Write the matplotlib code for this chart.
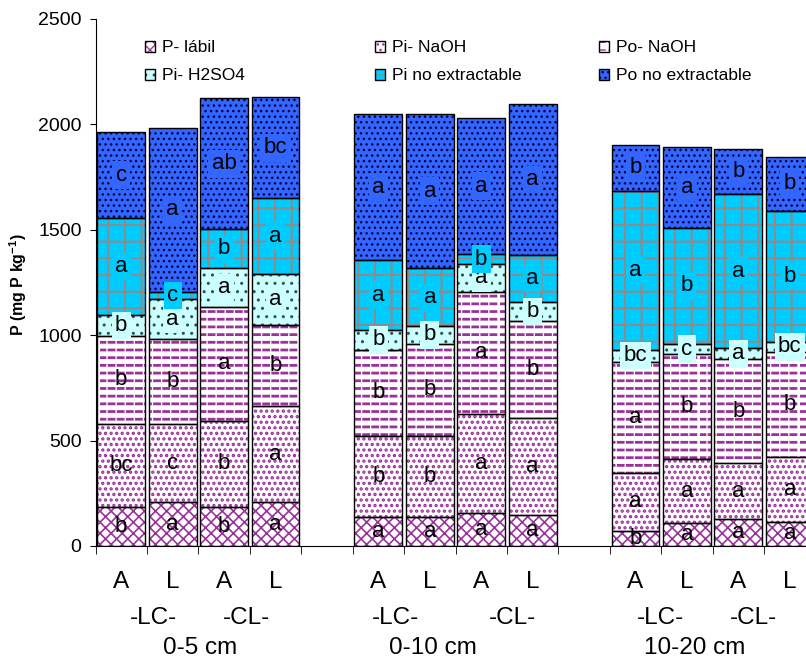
import warnings

import matplotlib
matplotlib.use('Agg')
import matplotlib.hatch as mhatch
import matplotlib.pyplot as plt
import numpy as np
from matplotlib.path import Path

# bars: 0-5 cm (A LC, L LC, A CL, L CL), 0-10 cm (...), 10-20 cm (...)
p_labil = [184, 207, 184, 207, 136, 136, 155, 147, 73, 108, 127, 115]
pi_naoh = [395, 370, 411, 456, 386, 387, 471, 459, 275, 303, 265, 309]
po_naoh = [417, 406, 537, 385, 408, 435, 581, 461, 526, 499, 494, 498]
pi_h2so4 = [100, 187, 185, 241, 95, 86, 131, 92, 58, 48, 52, 46]
pi_noext = [461, 37, 185, 360, 330, 273, 46, 221, 754, 552, 730, 623]
po_noext = [405, 774, 623, 481, 694, 732, 646, 717, 215, 381, 214, 256]

let_labil = ['b', 'a', 'b', 'a', 'a', 'a', 'a', 'a', 'b', 'a', 'a', 'a']
let_pinaoh = ['bc', 'c', 'b', 'a', 'b', 'b', 'a', 'a', 'a', 'a', 'a', 'a']
let_ponaoh = ['b', 'b', 'a', 'b', 'b', 'b', 'a', 'b', 'a', 'b', 'b', 'b']
let_pih2so4 = ['b', 'a', 'a', 'a', 'b', 'b', 'a', 'b', 'bc', 'c', 'a', 'bc']
let_pinoext = ['a', 'c', 'b', 'a', 'a', 'a', 'b', 'a', 'a', 'b', 'a', 'b']
let_ponoext = ['c', 'a', 'ab', 'bc', 'a', 'a', 'a', 'a', 'b', 'a', 'b', 'b']

tick_labels = ['A', 'L', 'A', 'L'] * 3
sub_labels = ['-LC-', '-CL-'] * 3
depth_labels = ['0-5 cm', '0-10 cm', '10-20 cm']


class DashHatch(mhatch.HatchPatternBase):
    # short horizontal dashes, used with the '_' hatch character
    def __init__(self, hatch, density):
        self.num_rows = 13 if '_' in hatch else 0
        self.num_cols = 11
        self.num_vertices = self.num_rows * self.num_cols * 2

    def set_vertices_and_codes(self, vertices, codes):
        k = 0
        for i in range(self.num_rows):
            y = (i + 0.5) / self.num_rows
            for j in range(self.num_cols):
                x0 = j / self.num_cols
                vertices[k] = (x0, y)
                vertices[k + 1] = (x0 + 0.55 / self.num_cols, y)
                codes[k] = Path.MOVETO
                codes[k + 1] = Path.LINETO
                k += 2


mhatch._hatch_types.append(DashHatch)
warnings.filterwarnings('ignore', message='hatch must consist')

plt.rcParams['font.family'] = ['Liberation Sans', 'DejaVu Sans']
plt.rcParams['mathtext.default'] = 'regular'

purple = '#993399'
fractions = [
    (p_labil, 'white', 'xxx', purple, 1.2, let_labil, None, 'P- lábil'),
    (pi_naoh, 'white', '...', purple, 1.6, let_pinaoh, None, 'Pi- NaOH'),
    (po_naoh, 'white', '_', purple, 2.0, let_ponaoh, None, 'Po- NaOH'),
    (pi_h2so4, '#CCFFFF', '..', '#2F4F4F', 1.0, let_pih2so4, '#CCFFFF', 'Pi- H2SO4'),
    (pi_noext, '#00CCFF', '+', '#8C8C8C', 1.5, let_pinoext, '#00CCFF', 'Pi no extractable'),
    (po_noext, '#3366FF', '...', '#000040', 1.0, let_ponoext, '#3366FF', 'Po no extractable'),
]

fig = plt.figure(figsize=(8.06, 6.59), dpi=100)
ax = fig.add_axes([0.1185, 0.1715, 0.8933, 0.7997])

x = np.array([0, 1, 2, 3, 5, 6, 7, 8, 10, 11, 12, 13])
bottom = np.zeros(len(x))
handles = []
labels = []
for values, face, hatch, hcolor, hlw, letters, box, name in fractions:
    values = np.array(values, dtype=float)
    plt.rcParams['hatch.linewidth'] = hlw
    bars = ax.bar(x, values, 0.93, bottom=bottom, color=face, hatch=hatch,
                  edgecolor=hcolor, linewidth=0, zorder=2)
    outline = ax.bar(x, values, 0.93, bottom=bottom, fill=False, edgecolor='black',
                     linewidth=1, zorder=3)
    handles.append((bars, outline))
    labels.append(name)
    for xi, b, v, t in zip(x, bottom, values, letters):
        bbox = None
        if box is not None:
            bbox = dict(boxstyle='square,pad=0.15', facecolor=box, edgecolor='none')
        ax.text(xi, b + v / 2, t, ha='center', va='center', fontsize=16,
                bbox=bbox, zorder=4)
    bottom += values

ax.set_xlim(-0.5, 13.5)
ax.set_ylim(0, 2500)
ax.set_yticks(np.arange(0, 2501, 500))
ax.tick_params(axis='y', labelsize=14, length=4, pad=6)
ax.set_xticks(x, labels=tick_labels)
ax.set_xticks(np.arange(-0.5, 14, 1), minor=True)
ax.tick_params(axis='x', which='major', length=0, pad=18, labelsize=17.5)
ax.tick_params(axis='x', which='minor', length=6)

ax.spines['top'].set_visible(False)
ax.spines['right'].set_visible(False)

ax.set_ylabel('P (mg P kg$^{-1}$)', fontsize=11.5, fontweight='bold')
ax.yaxis.set_label_coords(-0.093, 0.495)

trans = ax.get_xaxis_transform()
for pos, t in zip([0.63, 2.44, 5.33, 7.60, 10.48, 12.3], sub_labels):
    ax.text(pos, -0.136, t, ha='center', va='center', fontsize=17.5,
            transform=trans)
for pos, t in zip([1.53, 6.06, 11.16], depth_labels):
    ax.text(pos, -0.193, t, ha='center', va='center', fontsize=17.5,
            transform=trans)

# legend in three columns
for i, xpos in enumerate([0.056, 0.376, 0.687]):
    leg = ax.legend(handles=[handles[i], handles[i + 3]],
                    labels=[labels[i], labels[i + 3]], loc='upper left',
                    bbox_to_anchor=(xpos, 0.976), frameon=False, borderpad=0,
                    handlelength=0.6, handleheight=0.6, handletextpad=0.4,
                    labelspacing=0.75, prop={'size': 12.5})
    if i < 2:
        ax.add_artist(leg)

fig.savefig('out.png', dpi=100)
